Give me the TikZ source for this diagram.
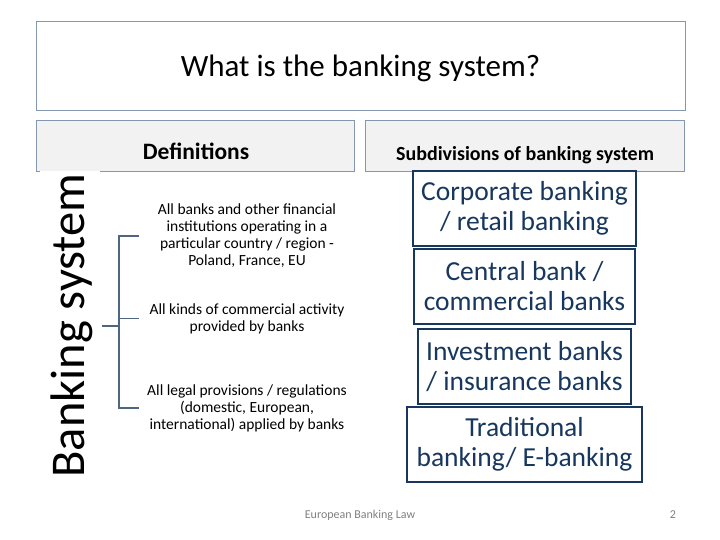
\documentclass[tikz,border=0pt]{standalone}
\usepackage{fontspec}
\setmainfont{Carlito}
\begin{document}
\begin{tikzpicture}[x=1pt,y=-1pt,
  framebox/.style={draw=frameblue, line width=0.9pt},
  headbox/.style={draw=frameblue, fill=headgray, line width=0.9pt},
  subbox/.style={draw=navy, line width=1.6pt, inner sep=0pt, align=center,
     text=navy, font=\fontsize{27.5}{30}\selectfont, minimum height=75pt},
  deftext/.style={align=center, font=\fontsize{15.5}{17}\selectfont, inner sep=0pt},
  brace/.style={draw=bracegray, line width=1.8pt}]
\definecolor{frameblue}{RGB}{132,151,176}
\definecolor{headgray}{RGB}{242,242,242}
\definecolor{navy}{RGB}{23,55,94}
\definecolor{bracegray}{RGB}{79,102,128}
\definecolor{footgray}{RGB}{128,128,128}
\useasboundingbox (0,0) rectangle (720,540);
\fill[white] (0,0) rectangle (720,540);
% title
\node[framebox, minimum width=649pt, minimum height=89pt, inner sep=0pt] (title) at (360.5,65.5) {};
\node[font=\fontsize{31}{34}\selectfont, anchor=base] (titletext) at (360.5,77) {What is the banking system?};
% headers
\node[headbox, minimum width=318pt, minimum height=51pt, inner sep=0pt] (defbox) at (195,145.5) {};
\node[font=\bfseries\fontsize{23.5}{26}\selectfont, anchor=base] (deflabel) at (196,160) {Definitions};
\node[headbox, minimum width=319pt, minimum height=51pt, inner sep=0pt] (subhead) at (524.5,145.5) {};
\node[font=\bfseries\fontsize{20}{22}\selectfont, anchor=base] (sublabel) at (525,161) {Subdivisions of banking system};
% banking system
\fill[white] (40,171.5) rectangle (100,478);
\node[rotate=90, anchor=base, font=\fontsize{48.5}{54}\selectfont, inner sep=0pt] (bs) at (84,325.5) {Banking system};
% definitions
\node[deftext] (d1) at (247,236) {All banks and other financial\\institutions operating in a\\particular country / region -\\Poland, France, EU};
\node[deftext] (d2) at (247,318.5) {All kinds of commercial activity\\provided by banks};
\node[deftext] (d3) at (247,408) {All legal provisions / regulations\\(domestic, European,\\international) applied by banks};
% bracket
\coordinate (bsr) at (102,326);
\coordinate (bj) at (119,326);
\coordinate (bt) at (119,236);
\coordinate (bm) at (119,318.5);
\coordinate (bb) at (119,408);
\coordinate (t1) at (139,236);
\coordinate (t2) at (139,318.5);
\coordinate (t3) at (139,408);
\draw[brace] (bsr) -- (bj);
\draw[brace] (t1) -- (bt) -- (bb) -- (t3);
\draw[brace] (bm) -- (t2);
% subdivisions
\node[subbox, minimum width=223pt] (s1) at (524.5,208.5) {Corporate banking\\/ retail banking};
\node[subbox, minimum width=221pt] (s2) at (524.5,286.5) {Central bank /\\commercial banks};
\node[subbox, minimum width=213pt] (s3) at (524.5,366.5) {Investment banks\\/ insurance banks};
\node[subbox, minimum width=235pt] (s4) at (524.5,444.5) {Traditional\\banking/ E-banking};
% footer
\node[font=\fontsize{12}{14}\selectfont, text=footgray] (foot) at (360,515) {European Banking Law};
\node[font=\fontsize{12}{14}\selectfont, text=footgray] (page) at (673,515) {2};
\end{tikzpicture}
\end{document}
